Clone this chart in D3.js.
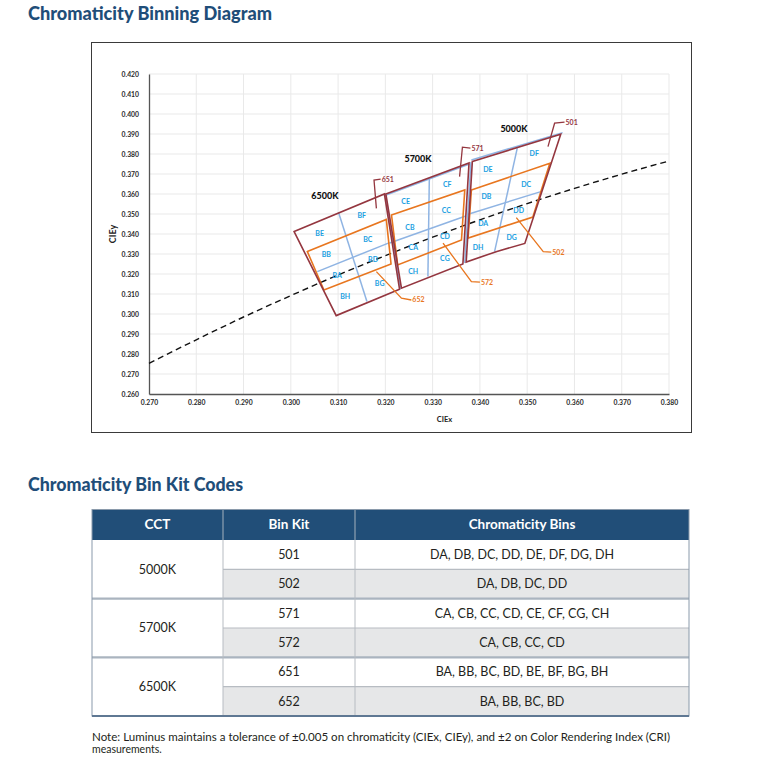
<!DOCTYPE html>
<html><head><meta charset="utf-8">
<script src="https://cdn.jsdelivr.net/npm/d3@7"></script>
<style>body{margin:0;background:#fff} svg{display:block}</style>
</head><body>
<svg id="c" width="783" height="766"></svg>
<script>
// ---------- DATA ----------
const xTicks = [0.27,0.28,0.29,0.30,0.31,0.32,0.33,0.34,0.35,0.36,0.37,0.38];
const yTicks = [0.26,0.27,0.28,0.29,0.30,0.31,0.32,0.33,0.34,0.35,0.36,0.37,0.38,0.39,0.40,0.41,0.42];
// Planckian locus (dashed)
const locusX = [0.27,0.28,0.29,0.30,0.31,0.32,0.33,0.34,0.35,0.36,0.37,0.38];
const locusY = [0.2753,0.2871,0.2985,0.3092,0.3195,0.3292,0.3384,0.3471,0.3552,0.3628,0.3699,0.3765];

// Outer kits (all 8 bins) and inner kits (4 center bins), CIE x,y corners
const kit651 = [[0.3007,0.3412],[0.3198,0.3600],[0.3230,0.3124],[0.3096,0.2992]];
const kit652 = [[0.3035,0.3312],[0.3202,0.3473],[0.3212,0.3250],[0.3070,0.3120]];
const kit571 = [[0.3201,0.3600],[0.3377,0.3755],[0.3364,0.3250],[0.3234,0.3129]];
const kit572 = [[0.3213,0.3495],[0.3368,0.3620],[0.3361,0.3370],[0.3226,0.3245]];
const kit501 = [[0.3384,0.3763],[0.3571,0.3899],[0.3495,0.3353],[0.3436,0.3313],[0.3371,0.3260]];
const kit502 = [[0.3382,0.3620],[0.3548,0.3754],[0.3512,0.3485],[0.3375,0.3380]];

// Bin divider lines (light blue)
const dividers = [
  [[0.3101,0.3507],[0.3161,0.3062]],
  [[0.3056,0.3212],[0.3209,0.3357]],
  [[0.3200,0.3600],[0.3232,0.3125]],
  [[0.3293,0.3679],[0.3290,0.3187]],
  [[0.3209,0.3355],[0.3370,0.3490]],
  [[0.3203,0.3596],[0.3378,0.3750]],
  [[0.3381,0.3760],[0.3368,0.3255]],
  [[0.3479,0.3829],[0.3431,0.3312]],
  [[0.3375,0.3499],[0.3529,0.3612]],
  [[0.3382,0.3770],[0.3575,0.3907]]
];

// Bin labels
const bins6500 = [["BE",0.3061,0.3404],["BF",0.3150,0.3490],["BB",0.3075,0.3298],["BC",0.3163,0.3374],
                  ["BA",0.3098,0.3193],["BD",0.3174,0.3270],["BH",0.3115,0.3087],["BG",0.3188,0.3150]];
const bins5700 = [["CE",0.3243,0.3562],["CF",0.3331,0.3645],["CB",0.3252,0.3432],["CC",0.3329,0.3515],
                  ["CA",0.3259,0.3334],["CD",0.3326,0.3387],["CH",0.3259,0.3210],["CG",0.3326,0.3279]];
const bins5000 = [["DE",0.3417,0.3720],["DF",0.3515,0.3804],["DB",0.3414,0.3587],["DC",0.3498,0.3649],
                  ["DA",0.3407,0.3454],["DD",0.3482,0.3517],["DH",0.3396,0.3334],["DG",0.3467,0.3382]];

// CCT group titles
const cctTitles = [["6500K",0.3072,0.3590],["5700K",0.3269,0.3775],["5000K",0.3472,0.3925]];

// Kit callouts: name, leader points
const callouts = [
  ["651","outer",[[0.3181,0.3528],[0.3176,0.3670],[0.3190,0.3674]]],
  ["652","inner",[[0.3181,0.3212],[0.3234,0.3079],[0.3255,0.3070]]],
  ["571","outer",[[0.3357,0.3687],[0.3363,0.3834],[0.3380,0.3829]]],
  ["572","inner",[[0.3322,0.3354],[0.3382,0.3162],[0.3400,0.3159]]],
  ["501","outer",[[0.3544,0.3837],[0.3558,0.3954],[0.3579,0.3959]]],
  ["502","inner",[[0.3477,0.3482],[0.3534,0.3312],[0.3551,0.3309]]]
];

// Table data
const tableHeaders = ["CCT","Bin Kit","Chromaticity Bins"];
const cctList = ["5000K","5700K","6500K"];
const kitList = ["501","502","571","572","651","652"];
const binList = ["DA, DB, DC, DD, DE, DF, DG, DH","DA, DB, DC, DD",
                 "CA, CB, CC, CD, CE, CF, CG, CH","CA, CB, CC, CD",
                 "BA, BB, BC, BD, BE, BF, BG, BH","BA, BB, BC, BD"];

// ---------- DRAW ----------
const svg = d3.select("#c");
const FONT = "Lato, 'Open Sans', sans-serif";
const titleColor = "#1f4e79";
const maroon = "#94363f", orange = "#e8761f", blue = "#8fb4e3", binBlue = "#1aa0e2";

svg.append("text").attr("x",28).attr("y",20).text("Chromaticity Binning Diagram")
  .attr("font-family",FONT).attr("font-weight",900).attr("font-size",18)
  .attr("fill",titleColor).attr("textLength",244).attr("lengthAdjust","spacingAndGlyphs");

// chart frame
svg.append("rect").attr("x",91.5).attr("y",42.5).attr("width",600).attr("height",390)
  .attr("fill","none").attr("stroke","#3a3a3a").attr("stroke-width",1);

const x = d3.scaleLinear().domain([0.27,0.38]).range([149,669]);
const y = d3.scaleLinear().domain([0.26,0.42]).range([394,74]);

const g = svg.append("g");
// grid
g.selectAll(".vg").data(xTicks.slice(1)).join("line")
  .attr("x1",d=>x(d)).attr("x2",d=>x(d)).attr("y1",y(0.42)).attr("y2",y(0.26))
  .attr("stroke","#e9e9e9").attr("stroke-width",1);
g.selectAll(".hg").data(yTicks.slice(1)).join("line")
  .attr("x1",x(0.27)).attr("x2",x(0.38)).attr("y1",d=>y(d)).attr("y2",d=>y(d))
  .attr("stroke","#e9e9e9").attr("stroke-width",1);

// axes
const xAxis = d3.axisBottom(x).tickValues(xTicks).tickFormat(d3.format(".3f")).tickSize(0).tickPadding(6);
const yAxis = d3.axisLeft(y).tickValues(yTicks).tickFormat(d3.format(".3f")).tickSize(0).tickPadding(10);
const gx = g.append("g").attr("transform",`translate(0,${y(0.26)})`).call(xAxis);
const gy = g.append("g").attr("transform",`translate(${x(0.27)},0)`).call(yAxis);
[gx,gy].forEach(a=>{
  a.select(".domain").attr("stroke","#555").attr("stroke-width",1.3);
  a.selectAll("text").attr("font-family",FONT).attr("font-size",6.8).attr("font-weight",700).attr("fill","#2a2a2a");
});
svg.append("text").attr("transform",`translate(116,${y(0.34)}) rotate(-90)`).attr("text-anchor","middle")
  .attr("font-family",FONT).attr("font-size",9).attr("font-weight",700).attr("fill","#222").text("CIEy");
svg.append("text").attr("x",x(0.3325)).attr("y",422).attr("text-anchor","middle")
  .attr("font-family",FONT).attr("font-size",7.5).attr("font-weight",700).attr("fill","#222").text("CIEx");

// locus
const line = d3.line().x(d=>x(d[0])).y(d=>y(d[1]));
g.append("path").datum(locusX.map((v,i)=>[v,locusY[i]])).attr("d",d3.line().x(d=>x(d[0])).y(d=>y(d[1])).curve(d3.curveMonotoneX))
  .attr("fill","none").attr("stroke","#111").attr("stroke-width",1.4).attr("stroke-dasharray","6,4");

// dividers
g.selectAll(".dv").data(dividers).join("path").attr("d",line)
  .attr("fill","none").attr("stroke",blue).attr("stroke-width",1.5);

// kits
const poly = d => line(d) + "Z";
[kit652,kit572,kit502].forEach(k=>g.append("path").attr("d",poly(k)).attr("fill","none").attr("stroke",orange).attr("stroke-width",1.6));
[kit651,kit571,kit501].forEach(k=>g.append("path").attr("d",poly(k)).attr("fill","none").attr("stroke",maroon).attr("stroke-width",1.6));

// bin labels
g.selectAll(".bl").data([...bins6500,...bins5700,...bins5000]).join("text")
  .attr("x",d=>x(d[1])).attr("y",d=>y(d[2])).attr("dy","0.35em").attr("text-anchor","middle")
  .attr("font-family",FONT).attr("font-size",7).attr("font-weight",700).attr("fill",binBlue).text(d=>d[0]);

// CCT titles
g.selectAll(".ct").data(cctTitles).join("text")
  .attr("x",d=>x(d[1])).attr("y",d=>y(d[2])).attr("dy","0.35em").attr("text-anchor","middle")
  .attr("font-family",FONT).attr("font-size",9).attr("font-weight",900).attr("fill","#111").text(d=>d[0]);

// callouts
callouts.forEach(c=>{
  const col = c[1]==="outer"?maroon:orange;
  g.append("path").attr("d",line(c[2])).attr("fill","none").attr("stroke",col).attr("stroke-width",1.3);
  const last = c[2][c[2].length-1];
  g.append("text").attr("x",x(last[0])+1).attr("y",y(last[1])).attr("dy","0.35em")
    .attr("font-family",FONT).attr("font-size",7).attr("font-weight",700).attr("fill",col).text(c[0]);
});

// ---------- TABLE ----------
svg.append("text").attr("x",28).attr("y",491).text("Chromaticity Bin Kit Codes")
  .attr("font-family",FONT).attr("font-weight",900).attr("font-size",18)
  .attr("fill",titleColor).attr("textLength",215).attr("lengthAdjust","spacingAndGlyphs");

const colX = [92,223,355,689];
const headTop = 509.5, bodyTop = 540, bodyBot = 716;
const row = d3.scaleBand().domain(kitList).range([bodyTop,bodyBot]);
const t = svg.append("g");
t.append("rect").attr("x",colX[0]).attr("y",headTop).attr("width",colX[3]-colX[0]).attr("height",bodyTop-headTop).attr("fill","#214e78");
t.selectAll(".rw").data(kitList).join("rect")
  .attr("x",colX[1]).attr("y",d=>row(d)).attr("width",colX[3]-colX[1]).attr("height",row.bandwidth())
  .attr("fill",(d,i)=>i%2?"#e6e7e8":"#fff");
// header text
t.selectAll(".ht").data(tableHeaders).join("text")
  .attr("x",(d,i)=>(colX[i]+colX[i+1])/2).attr("y",(headTop+bodyTop)/2).attr("dy","0.35em").attr("text-anchor","middle")
  .attr("font-family",FONT).attr("font-weight",700).attr("font-size",13.5).attr("fill","#fff").text(d=>d);
// lines
const lc = "#b7bcc2";
kitList.forEach((k,i)=>{
  if(i===0) return;
  const yy = row(k);
  const grp = i%2===0;
  t.append("line").attr("x1",grp?colX[0]:colX[1]).attr("x2",colX[3]).attr("y1",yy).attr("y2",yy)
    .attr("stroke",grp?"#aab4bf":lc).attr("stroke-width",grp?2.2:1.2);
});
[colX[1],colX[2]].forEach(cx=>t.append("line").attr("x1",cx).attr("x2",cx).attr("y1",headTop).attr("y2",bodyBot).attr("stroke",lc).attr("stroke-width",1));
t.append("line").attr("x1",colX[1]).attr("x2",colX[1]).attr("y1",headTop).attr("y2",bodyTop).attr("stroke","#5b7a98");
t.append("line").attr("x1",colX[2]).attr("x2",colX[2]).attr("y1",headTop).attr("y2",bodyTop).attr("stroke","#5b7a98");
t.append("rect").attr("x",colX[0]).attr("y",headTop).attr("width",colX[3]-colX[0]).attr("height",bodyBot-headTop)
  .attr("fill","none").attr("stroke","#8a9aab").attr("stroke-width",1);
t.append("line").attr("x1",colX[0]).attr("x2",colX[3]).attr("y1",bodyBot).attr("y2",bodyBot).attr("stroke","#5f7893").attr("stroke-width",2);
// body text
const txtCol = "#231f20";
t.selectAll(".cct").data(cctList).join("text")
  .attr("x",(colX[0]+colX[1])/2).attr("y",(d,i)=>row(kitList[2*i])+row.bandwidth()).attr("dy","0.35em").attr("text-anchor","middle")
  .attr("font-family",FONT).attr("font-size",12.5).attr("fill",txtCol).text(d=>d);
t.selectAll(".kit").data(kitList).join("text")
  .attr("x",(colX[1]+colX[2])/2).attr("y",d=>row(d)+row.bandwidth()/2).attr("dy","0.35em").attr("text-anchor","middle")
  .attr("font-family",FONT).attr("font-size",12.5).attr("fill",txtCol).text(d=>d);
t.selectAll(".bins").data(binList).join("text")
  .attr("x",(colX[2]+colX[3])/2).attr("y",(d,i)=>row(kitList[i])+row.bandwidth()/2).attr("dy","0.35em").attr("text-anchor","middle")
  .attr("font-family",FONT).attr("font-size",12.5).attr("fill",txtCol).text(d=>d);

// note
svg.append("text").attr("x",92).attr("y",741).attr("font-family",FONT).attr("fill",txtCol)
  .attr("font-size",10.5).attr("textLength",578).attr("lengthAdjust","spacingAndGlyphs")
  .text("Note: Luminus maintains a tolerance of ±0.005 on chromaticity (CIEx, CIEy), and ±2 on Color Rendering Index (CRI)");
svg.append("text").attr("x",92).attr("y",753).attr("font-family",FONT).attr("font-size",10.5).attr("fill",txtCol).text("measurements.");
</script>
</body></html>
